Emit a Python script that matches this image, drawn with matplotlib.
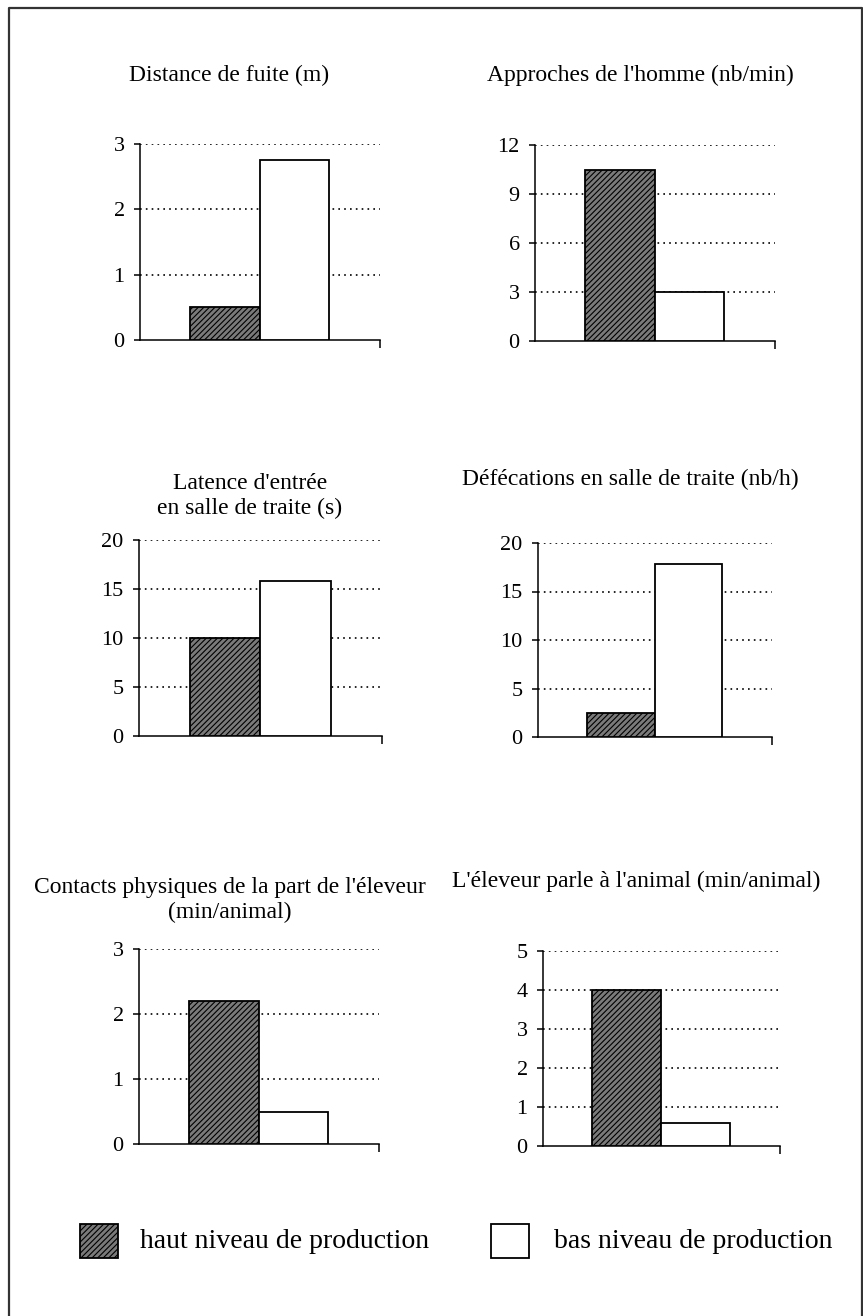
import matplotlib
matplotlib.use("Agg")
import matplotlib.pyplot as plt
from matplotlib.patches import Rectangle
from matplotlib.lines import Line2D

plt.rcParams['font.family'] = ['Liberation Serif', 'DejaVu Serif']
plt.rcParams['hatch.linewidth'] = 0.8

# data
titles = ["Distance de fuite (m)",
          "Approches de l'homme (nb/min)",
          "Latence d'entrée\nen salle de traite (s)",
          "Défécations en salle de traite (nb/h)",
          "Contacts physiques de la part de l'éleveur\n(min/animal)",
          "L'éleveur parle à l'animal (min/animal)"]
haut = [0.5, 10.5, 10.0, 2.5, 2.2, 4.0]
bas = [2.75, 3.0, 15.8, 17.8, 0.5, 0.6]
ymax = [3, 12, 20, 20, 3, 5]
ystep = [1, 3, 5, 5, 1, 1]
legend_labels = ["haut niveau de production", "bas niveau de production"]

W, H = 863, 1316
fig = plt.figure(figsize=(W / 100, H / 100), dpi=100)

# panel boxes in pixels: left, top, right, bottom
boxes = [(140, 144, 380, 340), (535, 145, 775, 341),
         (139, 540, 382, 736), (538, 543, 772, 737),
         (139, 949, 379, 1144), (543, 951, 780, 1146)]
# title centre (x, y) in pixels
title_pos = [(229, 75), (640, 75), (250, 496), (630, 479), (230, 900), (636, 881)]

hatch_face = '#7a7a7a'
xmin, xmax = -1.22, 2.23

for i, (l, t, r, b) in enumerate(boxes):
    ax = fig.add_axes([l / W, 1 - b / H, (r - l) / W, (b - t) / H])
    ax.bar([0], [haut[i]], width=1, color=hatch_face, hatch='//////',
           edgecolor='black', linewidth=1.3, zorder=3)
    ax.bar([1], [bas[i]], width=1, color='white',
           edgecolor='black', linewidth=1.3, zorder=3)
    ax.set_xlim(xmin, xmax)
    ax.set_ylim(0, ymax[i])
    ticks = list(range(0, ymax[i] + 1, ystep[i]))
    ax.set_yticks(ticks)
    ax.set_yticklabels([str(v) for v in ticks])
    for v in ticks[1:]:
        ax.axhline(v, color='black', linestyle=(0, (1, 2.5)), linewidth=1.2, zorder=1)
    ax.set_xticks([xmax])
    ax.tick_params(axis='x', direction='out', length=6, width=1.1, labelbottom=False)
    ax.tick_params(axis='y', direction='out', length=4, width=1.1, pad=7, labelsize=16)
    for s in ['top', 'right']:
        ax.spines[s].set_visible(False)
    for s in ['left', 'bottom']:
        ax.spines[s].set_linewidth(1.1)
    ax.patch.set_alpha(0)
    tx, ty = title_pos[i]
    fig.text(tx / W, 1 - ty / H, titles[i], ha='center', va='center',
             fontsize=17, multialignment='center', linespacing=1.25)

# legend
leg_y = 1241
fig.add_artist(Rectangle((80 / W, 1 - 1258 / H), 38 / W, 34 / H, transform=fig.transFigure,
                         facecolor=hatch_face, hatch='//////', edgecolor='black', linewidth=1.3))
fig.text(140 / W, 1 - leg_y / H, legend_labels[0], ha='left', va='center', fontsize=20)
fig.add_artist(Rectangle((491 / W, 1 - 1258 / H), 38 / W, 34 / H, transform=fig.transFigure,
                         facecolor='white', edgecolor='black', linewidth=1.3))
fig.text(554 / W, 1 - leg_y / H, legend_labels[1], ha='left', va='center', fontsize=20)

# page frame (bottom edge runs off the page)
fx = [9 / W, 9 / W, 862 / W, 862 / W]
fy = [0, 1 - 8 / H, 1 - 8 / H, 0]
fig.add_artist(Line2D(fx, fy, transform=fig.transFigure, color='#333333', linewidth=1.6))

fig.savefig("out.png", dpi=100)
